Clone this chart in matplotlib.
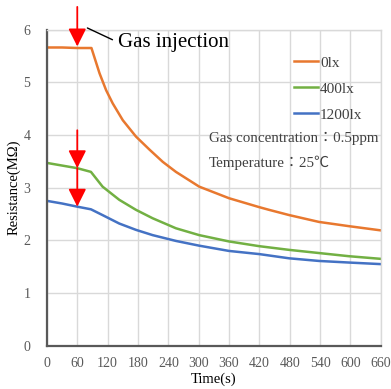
import matplotlib
matplotlib.use('Agg')
import matplotlib.pyplot as plt
from matplotlib.lines import Line2D

plt.rcParams['font.family'] = ['Liberation Serif', 'Noto Sans CJK JP', 'DejaVu Sans']

# values
t_0lx = [0, 30, 60, 88, 104, 117, 130, 150, 176, 203, 229, 255, 301, 360, 420, 439, 479, 538, 597, 660]
r_0lx = [5.66, 5.66, 5.65, 5.65, 5.17, 4.85, 4.60, 4.28, 3.97, 3.72, 3.49, 3.30, 3.02, 2.80, 2.63, 2.58, 2.48, 2.35, 2.27, 2.19]

t_400lx = [0, 30, 60, 87, 110, 143, 176, 209, 255, 301, 360, 420, 479, 538, 597, 660]
r_400lx = [3.47, 3.42, 3.37, 3.30, 3.02, 2.77, 2.58, 2.42, 2.23, 2.10, 1.98, 1.89, 1.82, 1.76, 1.70, 1.65]

t_1200lx = [0, 30, 60, 87, 110, 143, 176, 209, 255, 301, 360, 420, 479, 538, 597, 660]
r_1200lx = [2.75, 2.70, 2.64, 2.59, 2.48, 2.32, 2.20, 2.10, 1.99, 1.90, 1.80, 1.74, 1.66, 1.61, 1.58, 1.55]

labels = ['0lx', '400lx', '1200lx']
colors = ['#E8782F', '#72B043', '#4472C4']

x_ticks = list(range(0, 661, 60))
y_ticks = [0, 1, 2, 3, 4, 5, 6]

# arrows marking gas injection: (x, y_start, y_tip)
inj_time = 60
arrows = [(inj_time, 6.43, 5.68), (inj_time, 4.09, 3.37), (inj_time, 3.37, 2.64)]

fig = plt.figure(figsize=(3.91, 3.89), dpi=100)
ax = fig.add_axes([0.120, 0.111, 0.854, 0.813])

for t, r, lab, c in zip([t_0lx, t_400lx, t_1200lx], [r_0lx, r_400lx, r_1200lx], labels, colors):
    ax.plot(t, r, color=c, lw=1.8, label=lab)

ax.set_xlim(0, 660)
ax.set_ylim(0, 6)
ax.set_xticks(x_ticks)
ax.set_yticks(y_ticks)
ax.grid(True, color='#d9d9d9', lw=1)
ax.set_axisbelow(True)
ax.tick_params(length=0, labelsize=10, labelcolor='#595959')
ax.tick_params(axis='x', pad=8)
ax.tick_params(axis='y', pad=12)
for s in ['top', 'right']:
    ax.spines[s].set_color('#d9d9d9')
    ax.spines[s].set_linewidth(1)
for s in ['left', 'bottom']:
    ax.spines[s].set_color('#595959')
    ax.spines[s].set_linewidth(1.6)

ax.set_xlabel('Time(s)', fontsize=10.5, labelpad=2)
ax.set_ylabel('Resistance(MΩ)', fontsize=10.5, labelpad=2)

for x, y0, y1 in arrows:
    ax.annotate('', xy=(x, y1), xytext=(x, y0), annotation_clip=False,
                arrowprops=dict(arrowstyle='-|>', color='red', lw=1.3,
                                mutation_scale=27, shrinkA=0, shrinkB=0))

ax.annotate('Gas injection', xy=(80, 6.03), xytext=(140, 5.76), fontsize=15,
            va='center', ha='left', annotation_clip=False,
            arrowprops=dict(arrowstyle='-', color='black', lw=1,
                            shrinkA=2, shrinkB=0, relpos=(0, 0.5)))

handles = [Line2D([], [], color=c, lw=1.8) for c in colors]
leg = ax.legend(handles, labels, loc='upper left', bbox_to_anchor=(294 / 391, 1 - 56 / 389),
                bbox_transform=fig.transFigure, frameon=False, fontsize=11,
                handlelength=1.6, handletextpad=0.1, labelspacing=0.8,
                borderpad=0, borderaxespad=0)
for txt in leg.get_texts():
    txt.set_color('#404040')

fig.text(209 / 391, 1 - 138 / 389, 'Gas concentration：0.5ppm', fontsize=10.8,
         color='#404040', va='center', ha='left')
fig.text(209 / 391, 1 - 163 / 389, 'Temperature：25℃', fontsize=10.8,
         color='#404040', va='center', ha='left')

fig.savefig('out.png', dpi=100)
